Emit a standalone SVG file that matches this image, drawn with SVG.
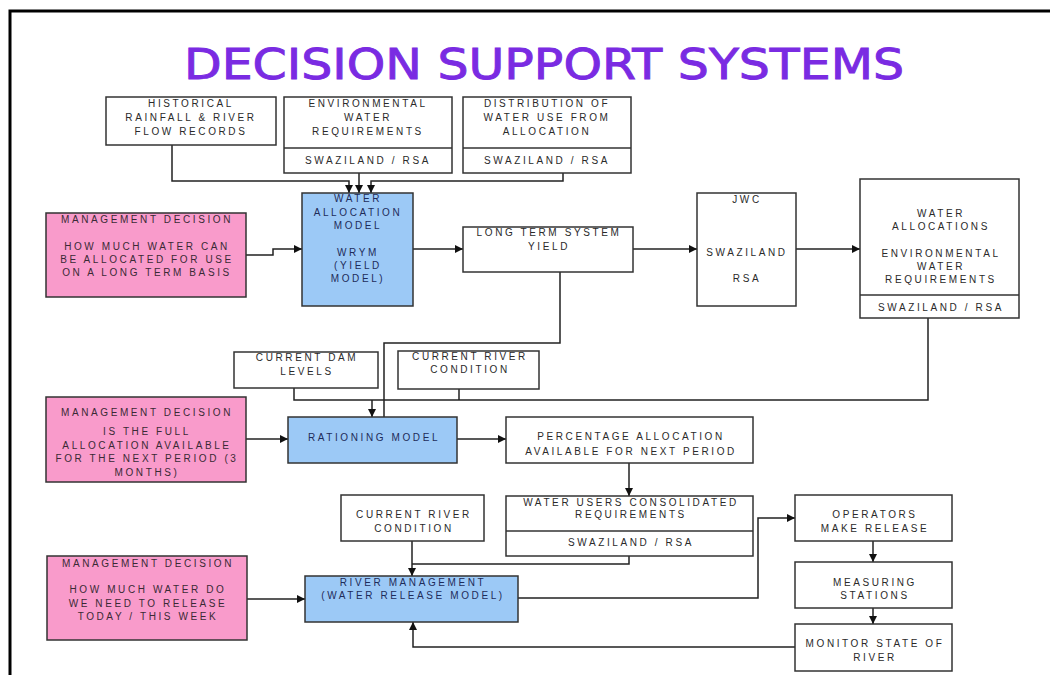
<svg xmlns="http://www.w3.org/2000/svg" width="1050" height="675" viewBox="0 0 1050 675">
<defs>
<marker id="ah" markerUnits="userSpaceOnUse" markerWidth="9" markerHeight="9" refX="8" refY="4" orient="auto">
<path d="M0,0 L8,4 L0,8 z" fill="#111"/>
</marker>
<style>
.bx{fill:#fff;stroke:#333;stroke-width:1.5}
.pk{fill:#F99BCB;stroke:#333;stroke-width:1.5}
.bl{fill:#9CC9F6;stroke:#333;stroke-width:1.5}
.dv{stroke:#333;stroke-width:1.5}
text{font-family:"Liberation Sans",Arial,sans-serif;font-size:10px;letter-spacing:2.6px;text-anchor:middle;fill:#2a2a2a}
.tb{fill:#1E2C5A}
.tp{fill:#3A2A35}
.title{font-family:"DejaVu Sans","Liberation Sans",sans-serif;font-size:43px;letter-spacing:0;fill:#7A2BE2;stroke:#7A2BE2;stroke-width:0.9}
#connectors path{fill:none;stroke:#222;stroke-width:1.5}
.a{marker-end:url(#ah)}
</style>
</defs>
<rect x="0" y="0" width="1050" height="675" fill="#fff"/>
<path d="M10,675 V11 H1050" fill="none" stroke="#000" stroke-width="3"/>
<text class="title" x="544" y="79" textLength="720" lengthAdjust="spacingAndGlyphs">DECISION SUPPORT SYSTEMS</text>

<g id="connectors">
<path class="a" d="M172,145 V181 H349 V193"/>
<path class="a" d="M359,173 V193"/>
<path class="a" d="M563,173 V181 H371 V193"/>
<path class="a" d="M246,255 H273 V249 H302"/>
<path class="a" d="M413,249 H463"/>
<path class="a" d="M633,249 H697"/>
<path class="a" d="M796,249 H860"/>
<path d="M560,272 V343 H384 V417"/>
<path d="M928,318 V400 H294 V388"/>
<path d="M459,389 V400"/>
<path class="a" d="M372,400 V417"/>
<path class="a" d="M246,439 H288"/>
<path class="a" d="M457,439 H506"/>
<path class="a" d="M629,463 V496"/>
<path d="M629,556 V564 H412"/>
<path class="a" d="M412,541 V576"/>
<path class="a" d="M247,599 H305"/>
<path class="a" d="M518,598 H758 V518 H795"/>
<path class="a" d="M873,541 V562"/>
<path class="a" d="M873,608 V624"/>
<path class="a" d="M795,647 H413 V622"/>
</g>

<g id="historical">
<rect class="bx" x="106" y="97" width="170" height="48"/>
<text x="191" y="107">HISTORICAL</text>
<text x="191" y="121">RAINFALL &amp; RIVER</text>
<text x="191" y="135">FLOW RECORDS</text>
</g>
<g id="env-req">
<rect class="bx" x="284" y="97" width="168" height="76"/>
<line class="dv" x1="284" y1="148" x2="452" y2="148"/>
<text x="368" y="107">ENVIRONMENTAL</text>
<text x="368" y="121">WATER</text>
<text x="368" y="135">REQUIREMENTS</text>
<text x="368" y="164">SWAZILAND / RSA</text>
</g>
<g id="distribution">
<rect class="bx" x="463" y="97" width="168" height="76"/>
<line class="dv" x1="463" y1="148" x2="631" y2="148"/>
<text x="547" y="107">DISTRIBUTION OF</text>
<text x="547" y="121">WATER USE FROM</text>
<text x="547" y="135">ALLOCATION</text>
<text x="547" y="164">SWAZILAND / RSA</text>
</g>
<g id="water-allocation-model">
<rect class="bl" x="302" y="193" width="111" height="113"/>
<text class="tb" x="358" y="202">WATER</text>
<text class="tb" x="358" y="216">ALLOCATION</text>
<text class="tb" x="358" y="229">MODEL</text>
<text class="tb" x="358" y="256">WRYM</text>
<text class="tb" x="358" y="269">(YIELD</text>
<text class="tb" x="358" y="282">MODEL)</text>
</g>
<g id="decision-1">
<rect class="pk" x="46" y="213" width="200" height="84"/>
<text class="tp" x="147" y="223">MANAGEMENT DECISION</text>
<text class="tp" x="147" y="250">HOW MUCH WATER CAN</text>
<text class="tp" x="147" y="263">BE ALLOCATED FOR USE</text>
<text class="tp" x="147" y="276">ON A LONG TERM BASIS</text>
</g>
<g id="long-term-yield">
<rect class="bx" x="463" y="227" width="170" height="45"/>
<text x="549" y="236">LONG TERM SYSTEM</text>
<text x="549" y="250">YIELD</text>
</g>
<g id="jwc">
<rect class="bx" x="697" y="193" width="99" height="113"/>
<text x="747" y="203">JWC</text>
<text x="747" y="256">SWAZILAND</text>
<text x="747" y="282">RSA</text>
</g>
<g id="water-allocations">
<rect class="bx" x="860" y="179" width="159" height="139"/>
<line class="dv" x1="860" y1="295" x2="1019" y2="295"/>
<text x="941" y="217">WATER</text>
<text x="941" y="230">ALLOCATIONS</text>
<text x="941" y="257">ENVIRONMENTAL</text>
<text x="941" y="270">WATER</text>
<text x="941" y="283">REQUIREMENTS</text>
<text x="941" y="311">SWAZILAND / RSA</text>
</g>
<g id="dam-levels">
<rect class="bx" x="234" y="352" width="144" height="36"/>
<text x="307" y="361">CURRENT DAM</text>
<text x="307" y="375">LEVELS</text>
</g>
<g id="river-condition-1">
<rect class="bx" x="398" y="351" width="141" height="38"/>
<text x="470" y="360">CURRENT RIVER</text>
<text x="470" y="373">CONDITION</text>
</g>
<g id="decision-2">
<rect class="pk" x="46" y="397" width="200" height="85"/>
<text class="tp" x="147" y="416">MANAGEMENT DECISION</text>
<text class="tp" x="147" y="435">IS THE FULL</text>
<text class="tp" x="147" y="449">ALLOCATION AVAILABLE</text>
<text class="tp" x="147" y="462">FOR THE NEXT PERIOD (3</text>
<text class="tp" x="147" y="476">MONTHS)</text>
</g>
<g id="rationing-model">
<rect class="bl" x="288" y="417" width="169" height="46"/>
<text class="tb" x="374" y="441">RATIONING MODEL</text>
</g>
<g id="percentage-allocation">
<rect class="bx" x="506" y="417" width="247" height="46"/>
<text x="631" y="440">PERCENTAGE ALLOCATION</text>
<text x="631" y="455">AVAILABLE FOR NEXT PERIOD</text>
</g>
<g id="water-users">
<rect class="bx" x="506" y="496" width="247" height="60"/>
<line class="dv" x1="506" y1="531" x2="753" y2="531"/>
<text x="631" y="506">WATER USERS CONSOLIDATED</text>
<text x="631" y="518">REQUIREMENTS</text>
<text x="631" y="546">SWAZILAND / RSA</text>
</g>
<g id="river-condition-2">
<rect class="bx" x="341" y="495" width="143" height="46"/>
<text x="414" y="518">CURRENT RIVER</text>
<text x="414" y="532">CONDITION</text>
</g>
<g id="decision-3">
<rect class="pk" x="47" y="556" width="200" height="84"/>
<text class="tp" x="148" y="567">MANAGEMENT DECISION</text>
<text class="tp" x="148" y="593">HOW MUCH WATER DO</text>
<text class="tp" x="148" y="607">WE NEED TO RELEASE</text>
<text class="tp" x="148" y="620">TODAY / THIS WEEK</text>
</g>
<g id="river-management">
<rect class="bl" x="305" y="576" width="213" height="46"/>
<text class="tb" x="413" y="586">RIVER MANAGEMENT</text>
<text class="tb" x="413" y="599">(WATER RELEASE MODEL)</text>
</g>
<g id="operators">
<rect class="bx" x="795" y="495" width="157" height="46"/>
<text x="875" y="518">OPERATORS</text>
<text x="875" y="532">MAKE RELEASE</text>
</g>
<g id="measuring">
<rect class="bx" x="795" y="562" width="157" height="46"/>
<text x="875" y="586">MEASURING</text>
<text x="875" y="599">STATIONS</text>
</g>
<g id="monitor">
<rect class="bx" x="795" y="624" width="157" height="47"/>
<text x="875" y="647">MONITOR STATE OF</text>
<text x="875" y="661">RIVER</text>
</g>
</svg>
